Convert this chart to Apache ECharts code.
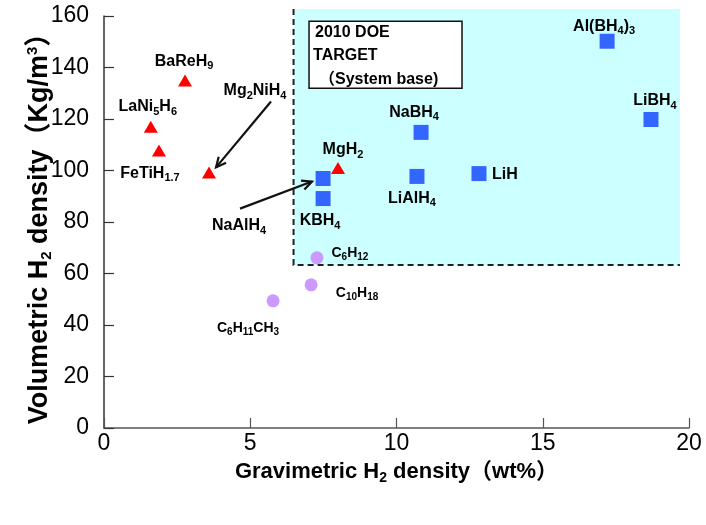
<!DOCTYPE html>
<html><head><meta charset="utf-8">
<script src="https://cdn.jsdelivr.net/npm/echarts@6/dist/echarts.min.js"></script>
<style>html,body{margin:0;padding:0;background:#fff}#c{width:706px;height:525px}</style>
</head><body><div id="c"></div>
<script>
// ---- data ----
const hydrideNames = ['BaReH{s|9}', 'LaNi{s|5}H{s|6}', 'FeTiH{s|1.7}', 'Mg{s|2}NiH{s|4}', 'MgH{s|2}'];
const hydrideX = [2.77, 1.60, 1.88, 3.59, 8.00];
const hydrideY = [135.0, 117.0, 107.8, 99.2, 101.0];

const complexNames = ['Al(BH{s|4}){s|3}', 'LiBH{s|4}', 'NaBH{s|4}', 'LiAlH{s|4}', 'LiH', 'NaAlH{s|4}', 'KBH{s|4}'];
const complexX = [17.2, 18.7, 10.84, 10.7, 12.82, 7.49, 7.49];
const complexY = [150.2, 119.8, 114.8, 97.7, 98.8, 96.9, 89.1];

const organicNames = ['C{s|6}H{s|12}', 'C{s|10}H{s|18}', 'C{s|6}H{s|11}CH{s|3}'];
const organicX = [7.28, 7.08, 5.78];
const organicY = [66.1, 55.6, 49.4];

const xTicks = [0, 5, 10, 15, 20];
const yTicks = [0, 20, 40, 60, 80, 100, 120, 140, 160];

// DOE 2010 target region (wt%, kg/m3)
const targetX = [6.48, 19.69];
const targetY = [63.3, 162.7];
const targetText = ['2010 DOE', 'TARGET', '\uFF08System base)'];

// ---- styles / annotation placement ----
const FONT = '"Liberation Sans", Arial, "Noto Sans CJK JP", sans-serif';
const labelOffsets = {
  hydride: [[-1, -19], [-3, -20], [-9, 23], [46, -82], [5, -18]],
  complex: [[-3, -15], [4, -19], [-7, -20], [-5, 22], [26, 1], [-84, 47], [-3, 22]],
  organic: [[33, -5], [46, 8], [-25, 27]]
};
const arrows = [
  {from: [5.71, 126.8], to: [3.83, 101.2]},
  {from: [4.65, 85.2], to: [7.11, 95.7]}
];
const boxArea = {x: [7.01, 12.24], y: [158.0, 131.9]};

const richLabel = (size, sub) => ({
  s: {fontSize: sub, fontWeight: 'bold', fontFamily: FONT, color: '#000', padding: [Math.round(size * 0.6), 0, 0, 0]}
});

function makeSeries(name, xs, ys, names, offs, symbol, size, color, fs) {
  return {
    type: 'scatter', name,
    symbol, symbolSize: size,
    itemStyle: {color, opacity: 1},
    data: xs.map((x, i) => ({value: [x, ys[i]], label: {offset: offs[i]}})),
    label: {
      show: true, position: 'inside', color: '#000',
      fontSize: fs, fontWeight: 'bold', fontFamily: FONT,
      formatter: p => names[p.dataIndex],
      rich: richLabel(fs, Math.round(fs * 0.68))
    },
    emphasis: {disabled: true},
    z: 5
  };
}

const chart = echarts.init(document.getElementById('c'), null, {renderer: 'canvas'});
const option = {
  animation: false,
  backgroundColor: '#fff',
  grid: {left: 104, right: 17, top: 16, bottom: 97, containLabel: false},
  xAxis: {
    type: 'value', min: xTicks[0], max: xTicks[xTicks.length - 1], interval: 5,
    axisLine: {lineStyle: {color: '#555', width: 1.5}},
    axisTick: {inside: true, length: 10, lineStyle: {color: '#555', width: 1.2}},
    splitLine: {show: false},
    axisLabel: {fontSize: 23, color: '#000', fontFamily: FONT, margin: 4},
    name: 'Gravimetric H{s|2} density\uFF08wt%\uFF09',
    nameLocation: 'middle', nameGap: 31, nameMoveOverlap: false,
    nameTextStyle: {fontSize: 22, fontWeight: 'bold', color: '#000', fontFamily: FONT,
      rich: {s: {fontSize: 14, fontWeight: 'bold', fontFamily: FONT, color: '#000', padding: [12, 0, 0, 0]}}}
  },
  yAxis: {
    type: 'value', min: yTicks[0], max: yTicks[yTicks.length - 1], interval: 20,
    axisLine: {lineStyle: {color: '#333', width: 1.5}},
    axisTick: {inside: true, length: 10, lineStyle: {color: '#333', width: 1.2}},
    splitLine: {show: false},
    axisLabel: {fontSize: 23, color: '#000', fontFamily: FONT, margin: 15},
    name: 'Volumetric H{s|2} density\uFF08Kg/m{p|3}\uFF09',
    nameLocation: 'middle', nameGap: 50, nameMoveOverlap: false,
    nameTextStyle: {fontSize: 27, fontWeight: 'bold', color: '#000', fontFamily: FONT,
      rich: {
        s: {fontSize: 15, fontWeight: 'bold', fontFamily: FONT, color: '#000', padding: [14, 0, 0, 0]},
        p: {fontSize: 15, fontWeight: 'bold', fontFamily: FONT, color: '#000', padding: [0, 0, 14, 0]}
      }}
  },
  series: [
    makeSeries('Hydrides', hydrideX, hydrideY, hydrideNames, labelOffsets.hydride, 'triangle', [14, 12], '#ff0000', 16),
    makeSeries('Complex', complexX, complexY, complexNames, labelOffsets.complex, 'rect', 15, '#3366ff', 16),
    makeSeries('Organic', organicX, organicY, organicNames, labelOffsets.organic, 'circle', 13, '#cc99ff', 14)
  ]
};
chart.setOption(option);

// ---- annotations positioned through the chart's own scales ----
const px = (x, y) => chart.convertToPixel({gridIndex: 0}, [x, y]);
const tl = px(targetX[0], targetY[1]);
const br = px(targetX[1], targetY[0]);
const g = [];
g.push({type: 'rect', z: -10, shape: {x: tl[0], y: tl[1], width: br[0] - tl[0], height: br[1] - tl[1]},
  style: {fill: '#ccffff'}, silent: true});
g.push({type: 'polyline', z: 1, shape: {points: [[tl[0], tl[1]], [tl[0], br[1]], [br[0], br[1]]]},
  style: {stroke: '#222', lineWidth: 2, lineDash: [6, 4], fill: null}, silent: true});
const b1 = px(boxArea.x[0], boxArea.y[0]);
const b2 = px(boxArea.x[1], boxArea.y[1]);
g.push({type: 'rect', z: 2, shape: {x: b1[0], y: b1[1], width: b2[0] - b1[0], height: b2[1] - b1[1]},
  style: {fill: '#fff', stroke: '#111', lineWidth: 1.5}, silent: true});
const lineX = [b1[0] + 6, b1[0] + 4, b1[0] + 10];
targetText.forEach((t, i) => {
  g.push({type: 'text', z: 3, x: lineX[i], y: b1[1] + 11 + i * 23.5,
    style: {text: t, fontSize: 16, fontWeight: 'bold', fontFamily: FONT, fill: '#000',
      verticalAlign: 'middle', align: 'left'}, silent: true});
});
arrows.forEach(a => {
  const p0 = px(a.from[0], a.from[1]);
  const p1 = px(a.to[0], a.to[1]);
  const ang = Math.atan2(p1[1] - p0[1], p1[0] - p0[0]);
  const L = 11, W = 0.45;
  const h1 = [p1[0] - L * Math.cos(ang - W), p1[1] - L * Math.sin(ang - W)];
  const h2 = [p1[0] - L * Math.cos(ang + W), p1[1] - L * Math.sin(ang + W)];
  g.push({type: 'line', z: 4, shape: {x1: p0[0], y1: p0[1], x2: p1[0], y2: p1[1]},
    style: {stroke: '#111', lineWidth: 2.2}, silent: true});
  g.push({type: 'polyline', z: 4, shape: {points: [h1, p1, h2]},
    style: {stroke: '#111', lineWidth: 2.2, fill: null}, silent: true});
});
chart.setOption({graphic: g});
</script>
</body></html>
